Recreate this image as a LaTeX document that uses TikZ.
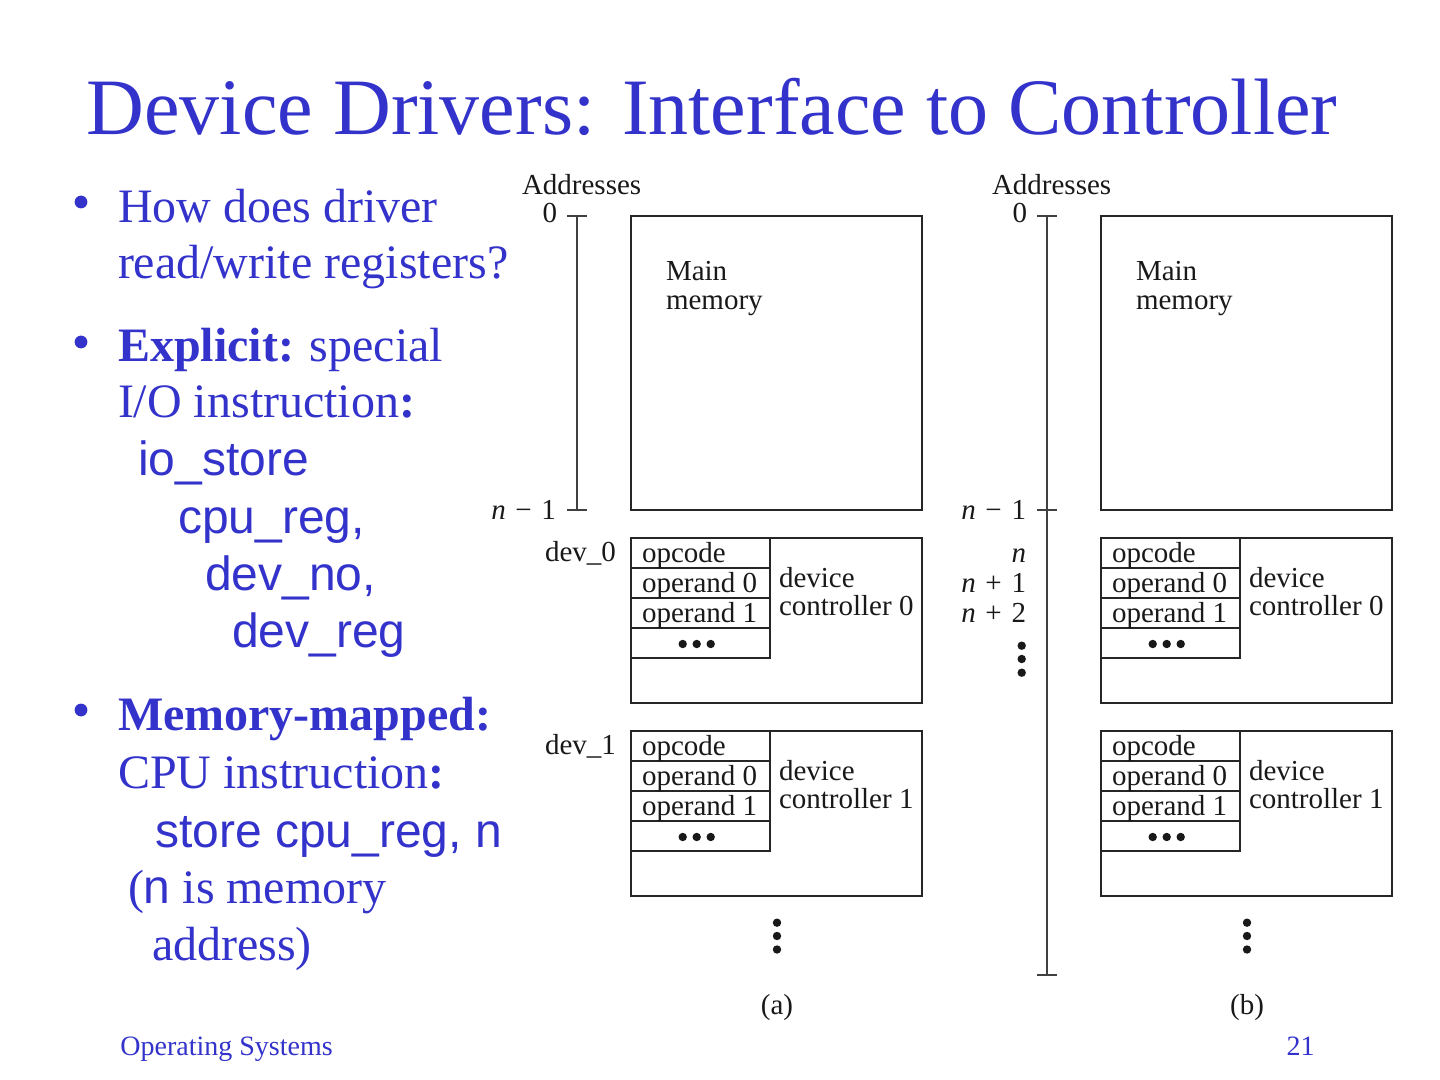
\documentclass[tikz,border=0pt]{standalone}
\usepackage{fontspec}
\setmainfont{Liberation Serif}
\setsansfont{Liberation Sans}
\definecolor{slideblue}{HTML}{3333CC}
\begin{document}
\begin{tikzpicture}[x=0.5pt,y=-0.5pt,
  txt/.style={inner sep=0pt, outer sep=0pt, anchor=base west, text=slideblue, font=\fontsize{24}{28}\selectfont},
  stxt/.style={txt, font=\sffamily\fontsize{24}{28}\selectfont},
  dtxt/.style={inner sep=0pt, outer sep=0pt, anchor=base west, text=black!90, font=\fontsize{14.5}{17}\selectfont},
  box/.style={draw=black!85, line width=0.75pt, inner sep=0pt, outer sep=0pt, anchor=north west},
  cell/.style={box, minimum width=69.5pt, minimum height=15pt},
  axis/.style={draw=black!75, line width=0.75pt},
  bul/.style={fill=slideblue},
  dot/.style={fill=black!90}]
\useasboundingbox[fill=white] (0,0) rectangle (1440,1080);

% title
\node[anchor=base, inner sep=0pt, text=slideblue, font=\fontsize{40}{48}\selectfont] (title) at (712,135) {Device Drivers: Interface to Controller};

% bullets
\fill[bul] (81,202) circle (3.2pt);
\fill[bul] (81,342) circle (3.2pt);
\fill[bul] (81,710) circle (3.2pt);
\node[txt] (b1a) at (118,223) {How does driver};
\node[txt] (b1b) at (118,279) {read/write registers?};
\node[txt] (b2a) at (118,362) {\textbf{Explicit:} special};
\node[txt] (b2b) at (118,418) {I/O instruction\textbf{:}};
\node[stxt] (c1) at (138,475) {io\_store};
\node[stxt] (c2) at (178,533) {cpu\_reg,};
\node[stxt] (c3) at (205,590) {dev\_no,};
\node[stxt] (c4) at (232,647) {dev\_reg};
\node[txt] (b3a) at (118,730) {\textbf{Memory-mapped:}};
\node[txt] (b3b) at (118,788) {CPU instruction\textbf{:}};
\node[stxt] (c5) at (155,847) {store cpu\_reg, n};
\node[txt] (b3c) at (128,903) {({\sffamily n} is memory};
\node[txt] (b3d) at (152,960) {address)};

% footer
\node[anchor=base west, inner sep=0pt, text=slideblue, font=\fontsize{14}{17}\selectfont] (foot) at (120,1055) {Operating Systems};
\node[anchor=base east, inner sep=0pt, text=slideblue, font=\fontsize{14}{17}\selectfont] (page) at (1315,1055) {21};

% the two panels
\foreach \p/\sh in {a/0pt,b/235pt}{
 \begin{scope}[xshift=\sh, name prefix=\p-]
  \node[dtxt] (addr) at (522,195) {Addresses};
  \node[dtxt, anchor=base east] (zero) at (557,223) {0};
  \node[dtxt, anchor=base east] (nm1) at (556,519) {\textit{n}\,\,−\,\,1};
  \node[box, minimum width=145.5pt, minimum height=147pt] (mem) at (631,216) {};
  \node[dtxt] (mainA) at (666,281) {Main};
  \node[dtxt] (mainB) at (666,310) {memory};
  \foreach \k/\dy in {0/0,1/193}{
    \node[box, minimum width=145.5pt, minimum height=82.5pt] (ctl\k) at (631,538+\dy) {};
    \node[cell] (op\k) at (631,538+\dy) {};
    \node[cell] (oa\k) at (631,568+\dy) {};
    \node[cell] (ob\k) at (631,598+\dy) {};
    \node[cell] (oc\k) at (631,628+\dy) {};
    \node[dtxt] (opt\k) at (642,562+\dy) {opcode};
    \node[dtxt] (oat\k) at (642,592+\dy) {operand 0};
    \node[dtxt] (obt\k) at (642,622+\dy) {operand 1};
    \fill[dot] (682.7,644+\dy) circle (2.1pt);
    \fill[dot] (696.7,644+\dy) circle (2.1pt);
    \fill[dot] (710.7,644+\dy) circle (2.1pt);
    \node[dtxt] (dva\k) at (779,587+\dy) {device};
    \node[dtxt] (dvb\k) at (779,615+\dy) {controller \k};
  }
  \fill[dot] (777,922.7) circle (2.1pt);
  \fill[dot] (777,936) circle (2.1pt);
  \fill[dot] (777,949.5) circle (2.1pt);
  \node[dtxt, anchor=base] (cap) at (777,1014) {(\p)};
  \coordinate (top) at (577,216);
  \coordinate (mid) at (577,510);
  \draw[axis] (567,216) -- (587,216);
  \draw[axis] (567,510) -- (587,510);
 \end{scope}
}

% panel (a) axis and labels
\draw[axis] (a-top) -- (a-mid);
\node[dtxt] (dev0) at (545,561) {dev\_0};
\node[dtxt] (dev1) at (545,754) {dev\_1};

% panel (b) axis and labels
\coordinate (b-bot) at (1047,975);
\draw[axis] (b-top) -- (b-bot);
\draw[axis] (1037,975) -- (1057,975);
\node[dtxt, anchor=base east] (bn0) at (1026,562) {\textit{n}};
\node[dtxt, anchor=base east] (bn1) at (1026,592) {\textit{n}\,\,+\,\,1};
\node[dtxt, anchor=base east] (bn2) at (1026,622) {\textit{n}\,\,+\,\,2};
\fill[dot] (1021.7,645.7) circle (2.1pt);
\fill[dot] (1021.7,659) circle (2.1pt);
\fill[dot] (1021.7,672.7) circle (2.1pt);
\end{tikzpicture}
\end{document}
